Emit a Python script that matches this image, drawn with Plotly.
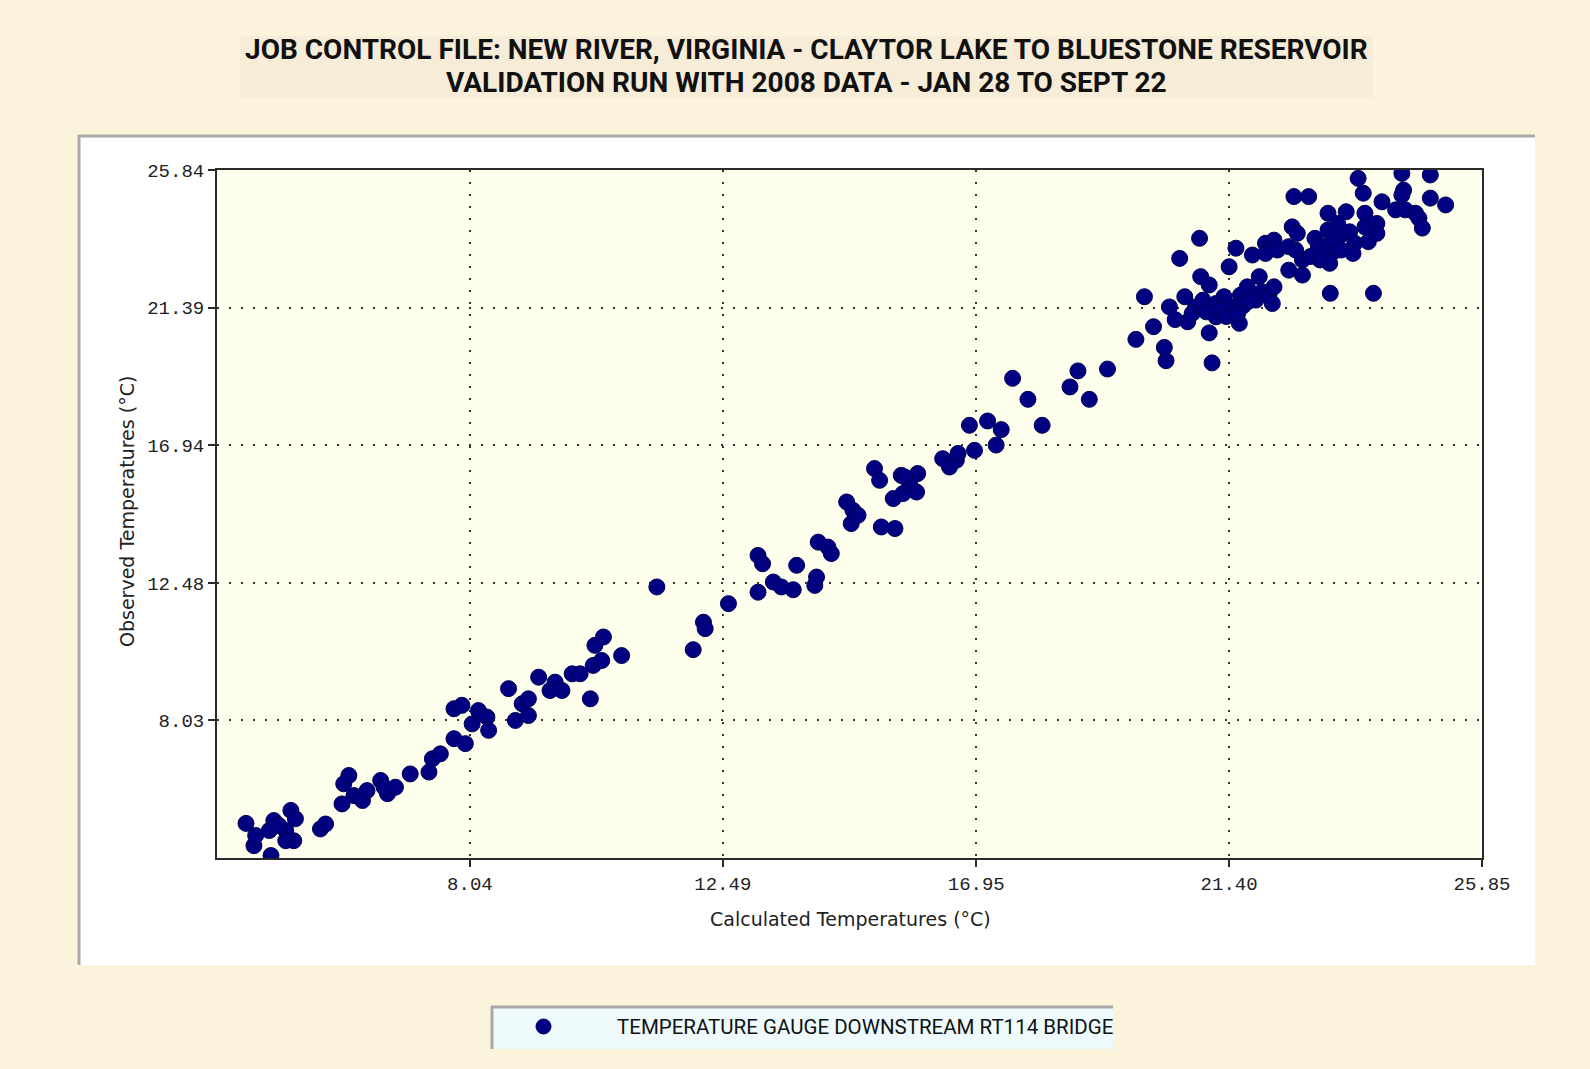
import plotly.graph_objects as go

# Calculated vs observed water temperatures (deg C)
calc_temps = [
    4.10, 4.24, 4.27, 4.54, 4.59, 4.51, 4.80, 4.89, 4.97, 4.94, 4.80, 4.68,
    5.41, 5.50,
    5.79, 5.82, 5.91, 6.00, 6.15, 6.23, 6.47, 6.59, 6.73, 6.53,
    6.99, 7.32, 7.38, 7.52, 7.76, 7.96, 7.76, 7.90, 8.08, 8.19, 8.34, 8.37,
    8.72, 8.84, 8.96, 9.07, 9.07, 9.25, 9.45, 9.54, 9.66, 9.84, 9.98, 10.16,
    10.21, 10.36, 10.24, 10.39, 10.71,
    11.33, 11.97, 12.15, 12.18, 12.59, 13.11, 13.19, 13.11, 13.38, 13.52, 13.73,
    13.79, 14.11, 14.14, 14.17, 14.34, 14.40, 14.67, 14.78, 14.87, 14.75, 15.16,
    15.25, 15.28, 15.52, 15.49, 15.63, 15.66, 15.92, 15.90, 15.78, 15.69,
    16.36, 16.48, 16.60, 16.63, 16.92, 16.83, 17.15, 17.39, 17.30,
    17.59, 17.86, 18.11, 18.60, 18.74, 18.94, 19.26,
    19.76, 19.91, 20.07, 20.26, 20.29, 20.35, 20.53, 20.62, 20.67, 20.88, 20.90,
    21.05, 21.05, 21.10, 20.81, 20.94, 21.17, 21.17, 21.31, 21.40, 21.52, 21.58,
    21.46, 21.60, 21.72, 21.81, 21.87, 21.93, 21.98, 22.04, 22.04, 22.10, 22.19,
    22.16, 22.25, 22.19, 22.45, 22.51, 22.60, 22.54, 22.80, 22.45, 22.57, 22.69,
    22.69, 22.83, 22.91, 22.97, 23.00, 23.14, 23.14, 23.20, 23.20, 23.17, 23.18,
    23.31, 23.37, 23.37, 23.46, 23.52, 23.61, 23.58, 23.67, 23.76, 23.79, 23.79,
    23.85, 23.94, 24.00, 24.00, 24.09, 24.33, 24.44, 24.47, 24.44, 24.50, 24.68,
    24.74, 24.80, 24.94, 24.94, 25.21,
    20.75, 21.25, 21.35, 21.65, 21.75, 21.55, 20.45, 21.00,
]
obs_temps = [
    4.70, 3.98, 4.31, 3.66, 4.79, 4.47, 4.47, 5.12, 4.85, 4.14, 4.14, 4.63,
    4.52, 4.68,
    5.33, 5.98, 6.25, 5.60, 5.44, 5.76, 6.09, 5.66, 5.87, 5.87,
    6.30, 6.36, 6.79, 6.95, 7.44, 7.28, 8.41, 8.52, 7.92, 8.35, 8.14, 7.71,
    9.06, 8.03, 8.57, 8.73, 8.19, 9.43, 9.00, 9.27, 9.00, 9.54, 9.54, 8.73,
    9.81, 9.97, 10.46, 10.73, 10.13,
    12.35, 10.32, 11.21, 11.00, 11.81, 13.37, 13.10, 12.18, 12.51, 12.35, 12.26,
    13.05, 12.40, 12.67, 13.80, 13.64, 13.43, 15.10, 14.83, 14.67, 14.40, 16.18,
    15.80, 14.29, 14.24, 15.21, 15.96, 15.37, 16.02, 15.42, 15.70, 15.91,
    16.50, 16.23, 16.45, 16.67, 16.77, 17.58, 17.72, 17.44, 16.94,
    19.10, 18.42, 17.58, 18.82, 19.34, 18.42, 19.40,
    20.36, 21.74, 20.77, 20.10, 19.67, 21.41, 22.98, 21.74, 20.93, 23.63, 22.39,
    22.12, 20.57, 19.60, 21.41, 21.63, 21.52, 21.09, 21.74, 22.71, 23.31, 20.88,
    21.41, 21.79, 22.06, 23.09, 21.63, 22.39, 21.90, 23.47, 23.14, 21.79, 23.57,
    21.52, 23.25, 22.06, 22.60, 24.00, 23.79, 24.98, 24.98, 23.36, 23.25, 22.93,
    22.44, 23.04, 23.63, 23.36, 22.93, 24.44, 23.90, 23.57, 23.14, 22.82, 21.85,
    24.11, 23.74, 23.25, 24.49, 23.84, 23.47, 23.14, 25.57, 25.09, 24.44, 24.00,
    23.52, 21.85, 24.11, 23.79, 24.81, 24.55, 25.73, 25.19, 25.03, 24.55, 24.44,
    24.28, 23.96, 25.68, 24.93, 24.71,
    21.20, 21.30, 21.10, 21.45, 21.60, 21.20, 21.00, 21.25,
]

x_ticks = [8.04, 12.49, 16.95, 21.40, 25.85]
y_ticks = [8.03, 12.48, 16.94, 21.39, 25.84]
x_range = [3.59, 25.85]
y_range = [3.58, 25.84]

title_lines = [
    "JOB CONTROL FILE: NEW RIVER, VIRGINIA - CLAYTOR LAKE TO BLUESTONE RESERVOIR",
    "VALIDATION RUN WITH 2008 DATA - JAN 28 TO SEPT 22",
]
series_name = "TEMPERATURE GAUGE DOWNSTREAM RT114 BRIDGE"
x_title = "Calculated Temperatures (°C)"
y_title = "Observed Temperatures (°C)"

# page geometry (pixels)
W, H = 1590, 1069
L, R, T, B = 217, 1482, 170, 858

PAGE_BG = "#FCF3DC"
TITLE_BG = "#F6ECD8"
PANEL_BG = "#FFFFFF"
PLOT_BG = "#FEFEEC"
LEGEND_BG = "#EEFAFB"
SHADOW = "#A9A9A6"
NAVY = "#000080"

HEAD = "Roboto, Liberation Sans, sans-serif"
MONO = "Liberation Mono, Courier New, monospace"
SANS = "DejaVu Sans, Verdana, sans-serif"


def px(xp):
    return (xp - L) / (R - L)


def py(yp):
    return (B - yp) / (B - T)


def rect(x0, y0, x1, y1, color):
    return dict(type="rect", xref="paper", yref="paper", layer="below",
                x0=px(x0), x1=px(x1), y0=py(y1), y1=py(y0),
                fillcolor=color, line=dict(width=0))


def line(x0, y0, x1, y1, color, width):
    return dict(type="line", xref="paper", yref="paper", layer="below",
                x0=px(x0), x1=px(x1), y0=py(y0), y1=py(y1),
                line=dict(color=color, width=width))


fig = go.Figure()
fig.add_trace(go.Scatter(
    x=calc_temps, y=obs_temps, mode="markers", name=series_name,
    marker=dict(color=NAVY, size=16, line=dict(color="#00005A", width=1)),
    showlegend=False, hoverinfo="x+y",
))

shapes = [
    rect(240, 36, 1373, 98, TITLE_BG),
    rect(78, 135, 1535, 965, PANEL_BG),
    line(78, 136, 1535, 136, SHADOW, 3),
    line(79, 135, 79, 965, SHADOW, 3),
    rect(L, T, R, B, PLOT_BG),
    rect(491, 1006, 1113, 1049, LEGEND_BG),
    line(491, 1007, 1113, 1007, SHADOW, 3),
    line(492, 1006, 492, 1049, SHADOW, 3),
    dict(type="circle", xref="paper", yref="paper", layer="above",
         x0=px(536), x1=px(551), y0=py(1034), y1=py(1019),
         fillcolor=NAVY, line=dict(color="#00005A", width=1)),
]

title_font = dict(family=HEAD, size=28, color="#111111", weight="bold")
annotations = [
    dict(text=title_lines[0], x=px(806), y=py(50), xref="paper", yref="paper",
         xanchor="center", yanchor="middle", showarrow=False, font=title_font),
    dict(text=title_lines[1], x=px(806), y=py(82), xref="paper", yref="paper",
         xanchor="center", yanchor="middle", showarrow=False, font=title_font),
    dict(text=x_title, x=px(850), y=py(919), xref="paper", yref="paper",
         xanchor="center", yanchor="middle", showarrow=False,
         font=dict(family=SANS, size=19, color="#222222")),
    dict(text=y_title, x=px(127), y=py(512), xref="paper", yref="paper",
         xanchor="center", yanchor="middle", showarrow=False, textangle=-90,
         font=dict(family=SANS, size=19, color="#222222")),
    dict(text=series_name, x=px(615), y=py(1027), xref="paper", yref="paper",
         xanchor="left", yanchor="middle", showarrow=False,
         font=dict(family=HEAD, size=20.5, color="#111111")),
]

axis_common = dict(
    showline=True, linecolor="#2A2A2A", linewidth=2, mirror=True,
    ticks="outside", ticklen=7, tickwidth=2, tickcolor="#2A2A2A",
    showgrid=True, gridcolor="#333333", gridwidth=2, griddash="2px,10px",
    zeroline=False, tickfont=dict(family=MONO, size=19, color="#222222"),
)

fig.update_xaxes(range=x_range, tickvals=x_ticks,
                 ticktext=[f"{v:.2f}" for v in x_ticks], **axis_common)
fig.update_yaxes(range=y_range, tickvals=y_ticks,
                 ticktext=[f"{v:.2f}" for v in y_ticks], **axis_common)

fig.update_layout(
    width=W, height=H, autosize=False,
    margin=dict(l=L, r=W - R, t=T, b=H - B, pad=0),
    paper_bgcolor=PAGE_BG, plot_bgcolor="rgba(0,0,0,0)",
    shapes=shapes, annotations=annotations, showlegend=False,
)

fig.write_html("out.html")
